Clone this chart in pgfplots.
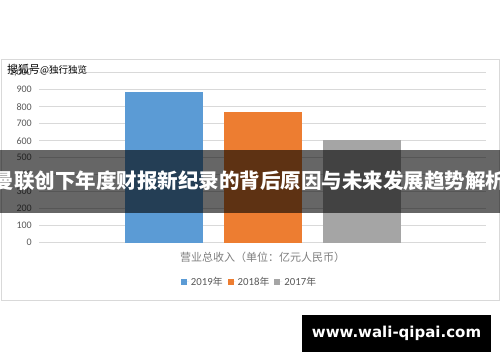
\documentclass[border=0pt]{standalone}
\usepackage{fontspec}
\setmainfont{Carlito}
\newfontfamily\cjk{Noto Sans CJK SC}
\newfontfamily\urlfont{DejaVu Sans}
\usepackage{pgfplots}
\pgfplotsset{compat=1.18}
\definecolor{c2019}{HTML}{5B9BD5}
\definecolor{c2018}{HTML}{ED7D31}
\definecolor{c2017}{HTML}{A5A5A5}
\definecolor{gridc}{HTML}{D9D9D9}
\definecolor{tickc}{HTML}{595959}
\definecolor{labc}{HTML}{7F7F7F}
\begin{document}
\begin{tikzpicture}[x=1pt,y=1pt]
\fill[white] (0,0) rectangle (500,362);
\useasboundingbox (0,0) rectangle (500,362);
\draw[gridc, line width=1pt] (1,62) rectangle (499,302.3);
\begin{axis}[
  at={(39pt,119.3pt)}, anchor=south west,
  scale only axis, width=447pt, height=170pt,
  ybar=21pt, bar width=78pt,
  xmin=-1, xmax=1, ymin=0, ymax=1000,
  ytick={0,100,...,1000},
  xtick={0}, xticklabels={{\cjk 营业总收入（单位：亿元人民币）}},
  axis line style={draw=none}, major tick length=0pt,
  ymajorgrids, grid style={gridc, line width=0.9pt},
  yticklabel style={font=\fontsize{10}{12}\selectfont, text=tickc, inner sep=0pt, xshift=-7pt},
  xticklabel style={font=\fontsize{11}{13}\selectfont, text=labc, inner sep=0pt, yshift=-9pt},
  /pgf/number format/assume math mode=true,
  legend columns=3,
  legend style={at={(0.471,-0.231)}, anchor=center, draw=none, fill=none,
    font=\fontsize{10.8}{12}\selectfont, text=tickc,
    /tikz/every even column/.append style={column sep=3pt}},
  legend image code/.code={\fill[#1] (0pt,-3pt) rectangle (6pt,3pt); \path (0pt,0pt) -- (8pt,0pt);},
]
\addplot[fill=c2019, draw=none] coordinates {(0,885)};
\addplot[fill=c2018, draw=none] coordinates {(0,769)};
\addplot[fill=c2017, draw=none] coordinates {(0,606)};
\legend{2019{\cjk\fontsize{9.8}{12}\selectfont 年}, 2018{\cjk\fontsize{9.8}{12}\selectfont 年}, 2017{\cjk\fontsize{9.8}{12}\selectfont 年}}
\end{axis}
% watermark
\node[anchor=west, inner sep=0pt] at (7,292) {\cjk\fontsize{11}{13}\selectfont 搜狐号\fontsize{9.5}{11}\selectfont @独行独览};
% dark band with title
\fill[black, opacity=0.6] (0,149) rectangle (500,212);
\node[text=white, inner sep=0pt] at (250,181) {\cjk\bfseries\fontsize{20.5}{24}\selectfont 曼联创下年度财报新纪录的背后原因与未来发展趋势解析};
% url box
\fill[black] (302,10) rectangle (491,47);
\node[text=white, inner sep=0pt] at (396.5,28.5) {\urlfont\bfseries\fontsize{15}{18}\selectfont www.wali-qipai.com};
\end{tikzpicture}
\end{document}
